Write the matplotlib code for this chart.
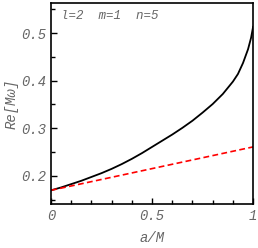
import matplotlib
matplotlib.use("Agg")
import matplotlib.pyplot as plt
from matplotlib.ticker import MultipleLocator

# spin parameter a/M
a_vals = [0.0, 0.05, 0.1, 0.15, 0.2, 0.25, 0.3, 0.35, 0.4, 0.45, 0.5, 0.55,
          0.6, 0.65, 0.7, 0.75, 0.8, 0.85, 0.9, 0.925, 0.95, 0.975, 0.99, 1.0]
# Re[M omega], full curve
re_full = [0.170, 0.176, 0.183, 0.190, 0.198, 0.206, 0.215, 0.225, 0.236, 0.248, 0.261, 0.274,
           0.287, 0.301, 0.316, 0.333, 0.351, 0.372, 0.398, 0.414, 0.437, 0.466, 0.490, 0.513]
# linear approximation (dashed)
a_lin = [0.0, 1.0]
re_lin = [0.170, 0.261]

gray = "#666666"
mono = "Liberation Mono"

fig = plt.figure(figsize=(2.58, 2.48), dpi=100)
ax = fig.add_axes([0.198, 0.177, 0.783, 0.811])

ax.plot(a_vals, re_full, color="black", lw=1.3)
ax.plot(a_lin, re_lin, color="red", lw=1.2, ls=(0, (3.5, 2)))

ax.set_xlim(0, 1)
ax.set_ylim(0.141, 0.563)

ax.set_xticks([0, 0.5, 1])
ax.set_xticklabels(["0", "0.5", "1"], fontfamily=mono, fontstyle="italic")
ax.xaxis.set_minor_locator(MultipleLocator(0.1))
ax.set_yticks([0.2, 0.3, 0.4, 0.5])
ax.set_yticklabels(["0.2", "0.3", "0.4", "0.5"], fontfamily=mono, fontstyle="italic")
ax.yaxis.set_minor_locator(MultipleLocator(0.05))
ax.tick_params(which="both", direction="in", top=False, right=False,
               labelcolor=gray, labelsize=10, width=1)
ax.tick_params(which="major", length=4)
ax.tick_params(which="minor", length=3)

for s in ax.spines.values():
    s.set_linewidth(1.2)

ax.set_xlabel("a/M", fontfamily=mono, fontstyle="italic", color=gray, fontsize=10, labelpad=6)
ax.set_ylabel("Re[M\u03c9]", fontfamily=mono, fontstyle="italic", color=gray, fontsize=10, labelpad=2)

ax.text(0.05, 0.965, "l=2  m=1  n=5", transform=ax.transAxes, ha="left", va="top",
        fontfamily=mono, fontstyle="italic", color=gray, fontsize=9)

fig.savefig("out.png", dpi=100)
